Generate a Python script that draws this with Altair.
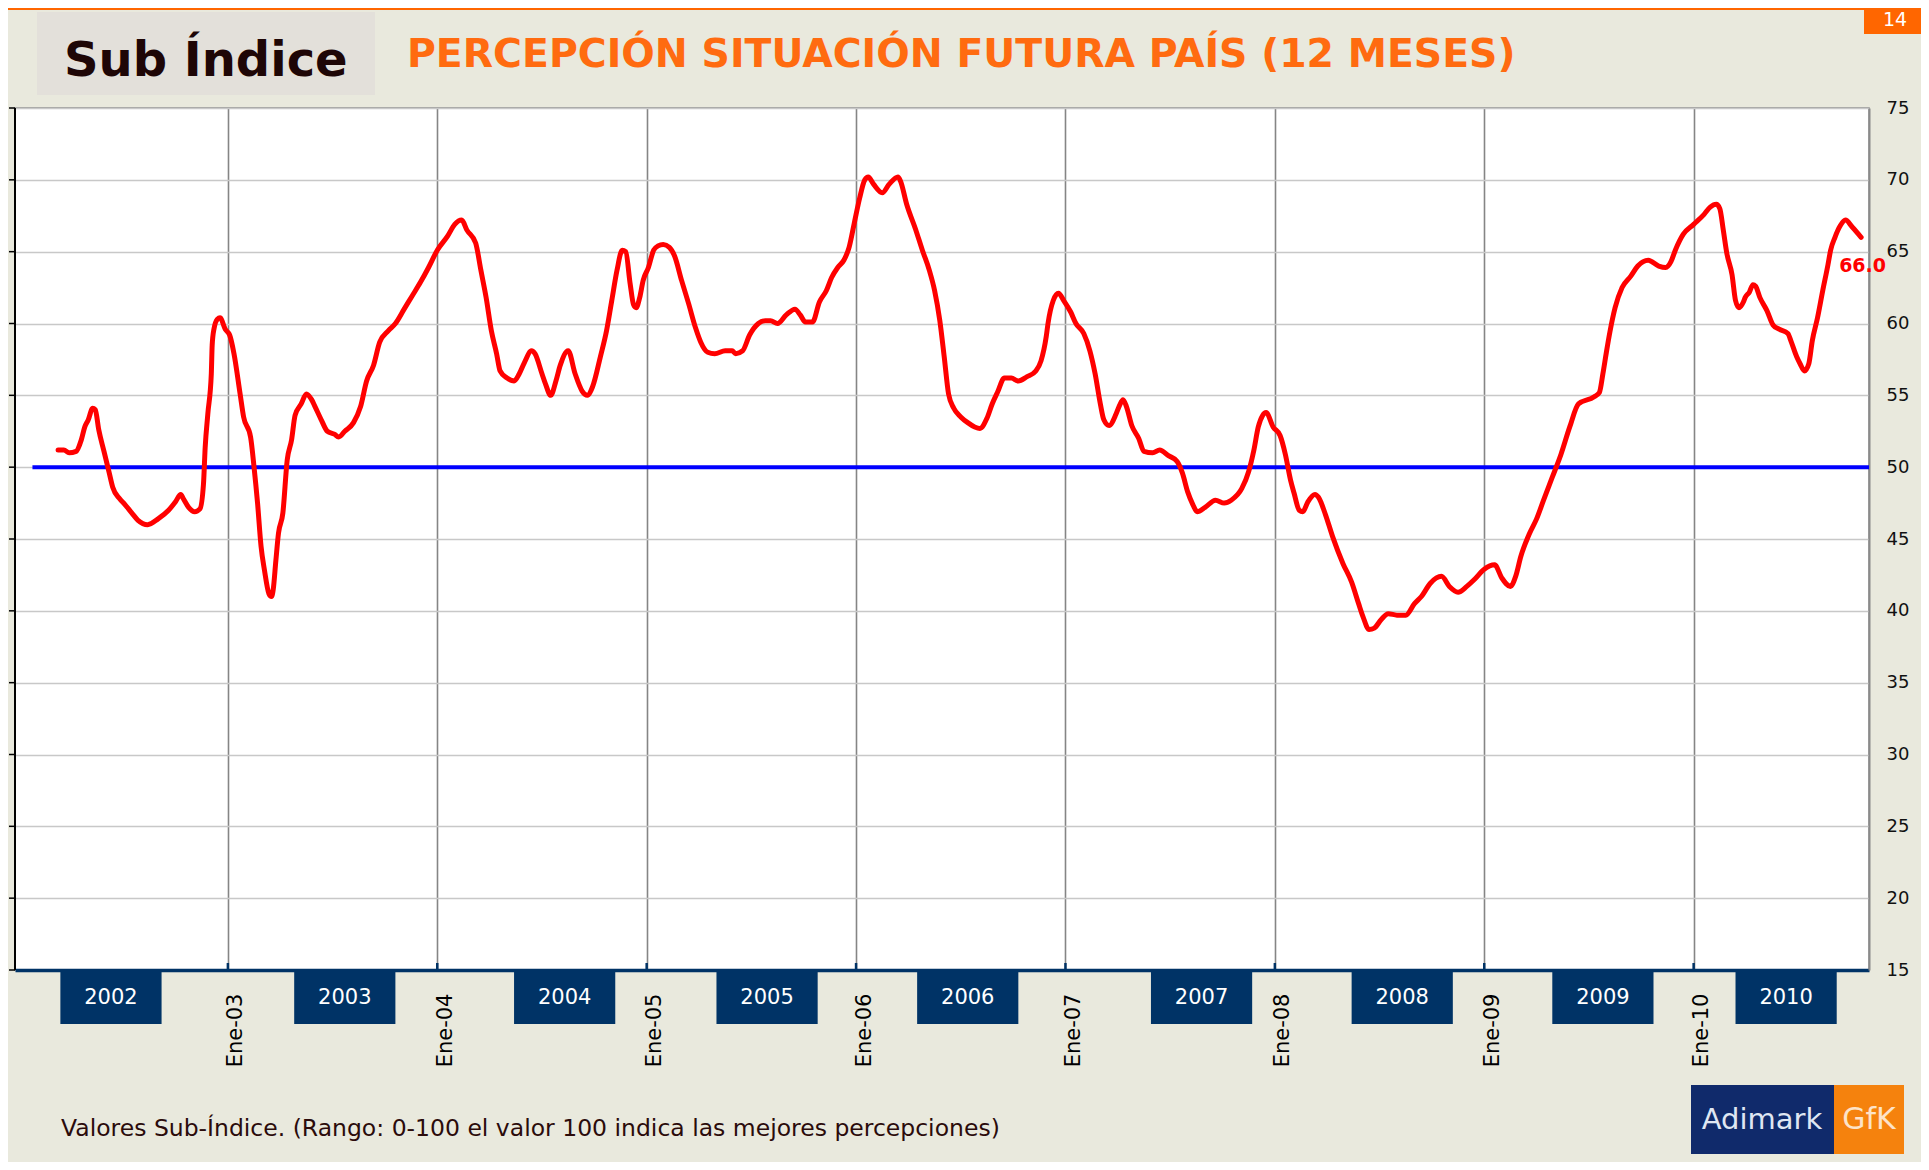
import altair as alt
import pandas as pd

# ---------------- data ----------------
# t = months since Jan-2002 (0 = Ene-02), v = sub-index value
t_vals = [2.27, 2.6, 2.9, 3.3, 3.6, 3.8, 4.0, 4.25, 4.4, 4.6, 4.9, 5.2, 5.4, 5.8, 6.1, 6.5, 6.85, 7.4, 8.0, 8.6,
          9.0, 9.3, 9.45, 9.75, 10.1, 10.4, 10.6, 10.7, 10.85, 11.05, 11.1, 11.2, 11.4, 11.55, 11.85, 12.1, 12.35,
          12.7, 12.9, 13.3, 13.5, 13.7, 13.9, 14.1, 14.35, 14.5, 14.6, 14.75, 14.9, 15.15, 15.4, 15.65, 15.85, 16.2,
          16.5, 16.8, 17.0, 17.35, 17.7, 18.1, 18.35, 18.7, 19.2, 19.6, 19.95, 20.35, 20.7, 21.2, 21.6, 22.1, 22.55,
          23.05, 23.5, 24.0, 24.6, 25.0, 25.4, 25.7, 26.2, 26.5, 26.8, 27.1, 27.4, 27.6, 28.0, 28.4, 28.7, 29.0,
          29.4, 29.6, 30.0, 30.2, 30.5, 30.8, 31.05, 31.5, 31.9, 32.3, 32.6, 32.9, 33.35, 33.7, 34.0, 34.3, 34.6,
          34.8, 35.05, 35.25, 35.4, 35.6, 35.8, 36.1, 36.4, 36.65, 36.95, 37.3, 37.6, 38.0, 38.4, 38.8, 39.1, 39.5,
          39.9, 40.5, 40.9, 41.1, 41.5, 41.9, 42.4, 42.8, 43.1, 43.5, 44.0, 44.5, 44.8, 45.1, 45.5, 45.9, 46.3,
          46.6, 46.95, 47.3, 47.6, 47.9, 48.2, 48.5, 48.7, 49.0, 49.5, 49.9, 50.4, 50.55, 50.9, 51.4, 51.8, 52.2,
          52.5, 52.8, 53.05, 53.3, 53.6, 54.0, 54.4, 54.8, 55.1, 55.5, 55.8, 56.1, 56.5, 56.9, 57.3, 57.8, 58.3,
          58.6, 58.9, 59.0, 59.3, 59.6, 59.9, 60.3, 60.6, 61.05, 61.4, 61.7, 62.0, 62.2, 62.5, 62.9, 63.1, 63.3,
          63.5, 63.8, 64.2, 64.5, 65.0, 65.4, 65.9, 66.4, 66.7, 67.0, 67.3, 67.55, 68.0, 68.6, 69.1, 69.5, 70.1,
          70.5, 70.8, 71.05, 71.3, 71.5, 71.9, 72.3, 72.6, 72.9, 73.1, 73.4, 73.6, 73.9, 74.3, 74.5, 74.9, 75.3,
          75.9, 76.4, 76.8, 77.05, 77.4, 77.7, 78.1, 78.5, 79.0, 79.5, 80.0, 80.4, 80.9, 81.55, 82.0, 82.5, 83.0,
          83.45, 84.0, 84.6, 85.0, 85.5, 85.8, 86.1, 86.6, 87.0, 87.4, 87.9, 88.4, 88.9, 89.4, 90.3, 90.6, 90.8,
          91.0, 91.2, 91.5, 91.9, 92.4, 92.8, 93.4, 94.0, 94.4, 94.7, 94.95, 95.4, 96.0, 96.6, 96.95, 97.3, 97.5,
          97.7, 97.9, 98.2, 98.4, 98.6, 98.85, 98.95, 99.2, 99.4, 99.55, 99.8, 100.2, 100.55, 100.9, 101.4, 101.6,
          101.9, 102.1, 102.35, 102.6, 102.8, 103.1, 103.4, 103.7, 103.85, 104.1, 104.4, 104.7, 105.1, 105.6]
v_vals = [51.2, 51.2, 51.0, 51.1, 51.9, 52.8, 53.3, 54.1, 54.0, 52.6, 51.1, 49.6, 48.6, 47.8, 47.4, 46.8, 46.3, 46.0,
          46.4, 47.0, 47.6, 48.1, 47.8, 47.2, 46.9, 47.1, 48.8, 51.4, 53.7, 56.5, 58.5, 59.6, 60.3, 60.4, 59.6, 59.2,
          57.9, 55.1, 53.5, 52.1, 50.0, 47.5, 44.5, 42.8, 41.2, 41.0, 41.5, 43.5, 45.4, 46.8, 50.5, 51.9, 53.6, 54.4,
          55.1, 54.7, 54.2, 53.3, 52.5, 52.3, 52.1, 52.5, 53.1, 54.2, 56.0, 57.1, 58.7, 59.5, 60.0, 61.0, 61.9, 62.9,
          63.9, 65.1, 66.1, 66.9, 67.2, 66.5, 65.6, 63.7, 61.8, 59.5, 57.9, 56.7, 56.2, 56.0, 56.5, 57.3, 58.1, 57.9,
          56.5, 55.8, 55.0, 56.0, 57.1, 58.1, 56.5, 55.3, 55.0, 55.6, 57.7, 59.5, 61.6, 63.7, 65.1, 65.0, 62.8, 61.3,
          61.1, 61.8, 63.0, 63.9, 65.1, 65.4, 65.5, 65.3, 64.7, 63.0, 61.4, 59.7, 58.7, 58.0, 57.9, 58.1, 58.1, 57.9,
          58.1, 59.2, 60.0, 60.2, 60.2, 60.0, 60.6, 61.0, 60.6, 60.1, 60.1, 61.5, 62.3, 63.2, 63.9, 64.4, 65.3, 67.0,
          68.7, 70.0, 70.2, 69.7, 69.1, 69.7, 70.2, 69.9, 68.3, 66.6, 65.1, 63.7, 62.3, 60.2, 57.7, 55.1, 54.1, 53.5,
          53.1, 52.8, 52.7, 53.4, 54.4, 55.2, 56.2, 56.2, 56.0, 56.3, 56.7, 57.4, 59.1, 60.0, 61.6, 62.1, 61.6, 60.8,
          60.0, 59.3, 58.1, 56.5, 54.4, 53.3, 52.9, 53.7, 54.3, 54.7, 54.2, 52.9, 52.0, 51.1, 51.0, 51.2, 50.8, 50.4,
          49.6, 48.3, 47.4, 46.9, 47.2, 47.7, 47.5, 47.7, 48.5, 49.7, 51.2, 52.8, 53.6, 53.8, 52.8, 52.2, 50.9, 49.1,
          48.2, 47.0, 46.9, 47.6, 48.1, 47.9, 46.7, 45.2, 43.3, 42.0, 40.5, 39.6, 38.7, 38.8, 39.4, 39.8, 39.7, 39.7,
          40.5, 41.0, 41.9, 42.4, 41.7, 41.3, 41.7, 42.2, 42.9, 43.2, 42.3, 41.7, 42.4, 43.8, 45.4, 46.4, 47.7, 49.3,
          50.9, 52.8, 54.4, 54.9, 55.2, 56.5, 58.0, 59.4, 61.1, 62.5, 63.3, 64.0, 64.4, 64.0, 63.9, 64.3, 65.1, 66.2,
          66.9, 67.6, 68.1, 68.3, 68.0, 66.5, 64.9, 63.4, 61.6, 61.1, 61.5, 61.8, 62.2, 62.7, 62.6, 61.8, 60.9, 59.9,
          59.6, 59.3, 58.7, 57.7, 57.2, 56.7, 57.2, 58.8, 60.4, 62.3, 64.1, 65.1, 66.0, 66.8, 67.2, 66.7, 66.0]

tick_pos = [12, 24, 36, 48, 60, 72, 84, 96]
tick_labels = ["Ene-03", "Ene-04", "Ene-05", "Ene-06", "Ene-07", "Ene-08", "Ene-09", "Ene-10"]
y_ticks = [15, 20, 25, 30, 35, 40, 45, 50, 55, 60, 65, 70, 75]
years = ["2002", "2003", "2004", "2005", "2006", "2007", "2008", "2009", "2010"]
year_centers = [5.3, 18.7, 31.3, 42.9, 54.4, 67.8, 79.3, 90.8, 101.3]
ref_level = 50
ref_start = 0.8

title_left = "Sub Índice"
title_main = "PERCEPCIÓN SITUACIÓN FUTURA PAÍS (12 MESES)"
page_no = "14"
footnote = "Valores Sub-Índice. (Rango: 0-100 el valor 100 indica las mejores percepciones)"

# ---------------- styling ----------------
W, H = 1854, 862
FONT = "DejaVu Sans"
NAVY = "#003366"
BG = "#e9e9dd"
x_dom = [-0.2, 106.05]
xs = alt.Scale(domain=x_dom, nice=False, zero=False)
ys = alt.Scale(domain=[15, 75], nice=False, zero=False)

label_expr = " : ".join(f"datum.value == {p} ? '{l}'" for p, l in zip(tick_pos, tick_labels)) + " : ''"

xaxis = alt.Axis(
    values=tick_pos, labelExpr=label_expr, labelAngle=270, title=None,
    grid=True, gridColor="#858585", gridWidth=1.6,
    domainColor=NAVY, domainWidth=3.5, ticks=False, labelPadding=23, labelOffset=8,
    labelFont=FONT, labelFontSize=21, labelColor="#000000", labelFlush=False, labelOverlap=False)
yaxis = alt.Axis(
    orient="right", values=y_ticks, title=None, grid=True, gridColor="#c8c8c8", gridWidth=1.6,
    domainColor="#8a8a8a", domainWidth=2, ticks=False, labelPadding=17,
    labelFont=FONT, labelFontSize=18, labelColor="#111111", labelFlush=False, labelOverlap=False)


def X(field):
    return alt.X(field, scale=xs, axis=xaxis)


def Y(field):
    return alt.Y(field, scale=ys, axis=yaxis)


series = pd.DataFrame({"t": t_vals, "v": v_vals})
one = pd.DataFrame({"a": [0]})

line = alt.Chart(series).mark_line(
    color="#ff0000", strokeWidth=5, interpolate="monotone", strokeCap="round", strokeJoin="round"
).encode(x=X("t:Q"), y=Y("v:Q"))

ref = alt.Chart(pd.DataFrame({"t": [ref_start, x_dom[1]], "v": [ref_level, ref_level]})).mark_line(
    color="#0000ff", strokeWidth=4
).encode(x=X("t:Q"), y=Y("v:Q"))

last = series.tail(1)
last_label = alt.Chart(last).mark_text(
    color="#ff0000", font=FONT, fontSize=19, fontWeight="bold", align="left", baseline="middle", dx=-22, dy=29
).encode(x=X("t:Q"), y=Y("v:Q"), text=alt.Text("v:Q", format=".1f"))

left_axis = alt.Chart(one).mark_rule(color="#000000", strokeWidth=2).encode(
    x=alt.value(0), y=alt.value(0), y2=alt.value(H))
left_ticks = alt.Chart(pd.DataFrame({"v": y_ticks})).mark_rule(color="#000000", strokeWidth=1.5).encode(
    y=Y("v:Q"), x=alt.value(-6), x2=alt.value(0))
bottom_ticks = alt.Chart(pd.DataFrame({"t": tick_pos})).mark_rule(color=NAVY, strokeWidth=2.5).encode(
    x=X("t:Q"), y=alt.value(H - 7), y2=alt.value(H))

ydf = pd.DataFrame({"year": years, "c": year_centers})
year_boxes = alt.Chart(ydf).transform_calculate(x0="datum.c - 2.9", x1="datum.c + 2.9").mark_rect(
    color=NAVY).encode(x=X("x0:Q"), x2="x1:Q", y=alt.value(H + 2), y2=alt.value(H + 54))
year_text = alt.Chart(ydf).mark_text(color="#ffffff", font=FONT, fontSize=21, baseline="middle").encode(
    x=X("c:Q"), y=alt.value(H + 28), text="year:N")

# header
top_line = alt.Chart(one).mark_rule(color="#ff6600", strokeWidth=2).encode(
    x=alt.value(-7), x2=alt.value(1849), y=alt.value(-99))
title_box = alt.Chart(one).mark_rect(color="#e3e0da").encode(
    x=alt.value(22), x2=alt.value(360), y=alt.value(-96), y2=alt.value(-13))
title_l = alt.Chart(one).mark_text(
    text=title_left, font=FONT, fontSize=48, fontWeight="bold", color="#1e0606", align="left", baseline="alphabetic"
).encode(x=alt.value(49), y=alt.value(-32))
title_m = alt.Chart(one).mark_text(
    text=title_main, font=FONT, fontSize=39.4, fontWeight="bold", color="#ff6b10", align="left", baseline="alphabetic"
).encode(x=alt.value(392), y=alt.value(-41))
page_box = alt.Chart(one).mark_rect(color="#ff6600").encode(
    x=alt.value(1849), x2=alt.value(1920), y=alt.value(-100), y2=alt.value(-74))
page_txt = alt.Chart(one).mark_text(
    text=page_no, font=FONT, fontSize=19, color="#ffffff", align="center", baseline="middle"
).encode(x=alt.value(1880), y=alt.value(-88))

# footer
foot = alt.Chart(one).mark_text(
    text=footnote, font=FONT, fontSize=23.5, color="#2b0b0b", align="left", baseline="middle"
).encode(x=alt.value(46), y=alt.value(1021))
logo_a = alt.Chart(one).mark_rect(color="#102a6b").encode(
    x=alt.value(1676), x2=alt.value(1819), y=alt.value(977), y2=alt.value(1046))
logo_b = alt.Chart(one).mark_rect(color="#f5820d").encode(
    x=alt.value(1819), x2=alt.value(1889), y=alt.value(977), y2=alt.value(1046))
logo_ta = alt.Chart(one).mark_text(
    text="Adimark", font=FONT, fontSize=29, color="#dfe6f2", align="center", baseline="middle"
).encode(x=alt.value(1747), y=alt.value(1012))
logo_tb = alt.Chart(one).mark_text(
    text="GfK", font=FONT, fontSize=30, color="#fde3c8", align="center", baseline="middle"
).encode(x=alt.value(1854), y=alt.value(1012))

chart = alt.layer(
    ref, line, last_label, left_axis, left_ticks, bottom_ticks, year_boxes, year_text,
    top_line, title_box, title_l, title_m, page_box, page_txt, foot, logo_a, logo_b, logo_ta, logo_tb
).properties(
    width=W, height=H,
    autosize=alt.AutoSizeParams(type="none"),
    padding={"left": 7, "top": 100, "right": 52, "bottom": 192},
).configure(background=BG).configure_view(fill="#ffffff", stroke="#8a8a8a", strokeWidth=1.5)

chart.save("out.html", embed_options={"renderer": "svg", "actions": False})
